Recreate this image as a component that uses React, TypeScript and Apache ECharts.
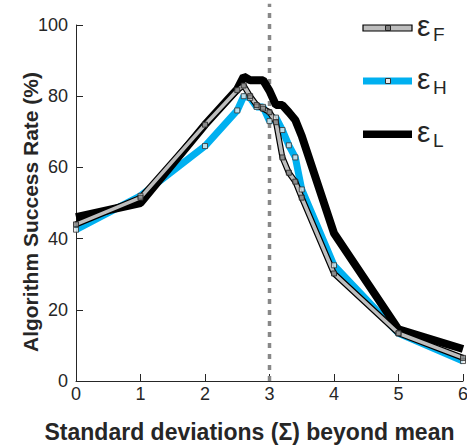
import React, { useEffect, useRef } from "react";
import * as echarts from "echarts";

const xValues = [0, 1, 2, 2.5, 2.6, 2.7, 2.8, 2.9, 3.0, 3.1, 3.2, 3.3, 3.4, 3.5, 4, 5, 6];
const epsF = [44, 51.5, 72, 81.7, 83, 80, 77.5, 76.5, 75.5, 72.7, 62.8, 58.5, 56, 51.5, 30.2, 13.4, 6.5];
const epsH = [42.5, 52, 66, 76, 80, 79.5, 77, 77, 73, 74, 70.5, 66.2, 62.8, 53.8, 32.5, 13.4, 5.6];
const epsL = [46, 50, 72, 82, 85.5, 84.5, 84.5, 84.5, 81.5, 77.5, 77.5, 75.5, 73.3, 68.8, 41.5, 14.5, 9];
const thresholdX = 3;
const yTicks = { min: 0, max: 100, interval: 20 };
const xTicks = { min: 0, max: 6, interval: 1 };
const legendItems = [
  { sub: "F", kind: "F" },
  { sub: "H", kind: "H" },
  { sub: "L", kind: "L" },
];

const BLUE = "#00b0f0";
const GRAY = "#bdbdbd";
const DARK = "#262626";
const FONT = "Liberation Sans, Arial, Helvetica, sans-serif";

const pairs = (ys: number[]) => xValues.map((x, i) => [x, ys[i]]);

export default function App() {
  const ref = useRef<HTMLDivElement>(null);
  useEffect(() => {
    if (!ref.current) return;
    const chart = echarts.init(ref.current, undefined, { renderer: "svg" });

    const legendGraphics: any[] = [];
    const rowY = [28, 81, 134];
    legendItems.forEach((it, i) => {
      const cy = rowY[i];
      if (it.kind === "F") {
        legendGraphics.push({
          type: "rect",
          shape: { x: 363, y: cy - 3, width: 49, height: 6 },
          style: { fill: GRAY, stroke: "#000", lineWidth: 1.2 },
        });
        legendGraphics.push({
          type: "rect",
          shape: { x: 385.5, y: cy - 2.5, width: 5, height: 5 },
          style: { fill: "#7f7f7f", stroke: "#222", lineWidth: 1 },
        });
      } else if (it.kind === "H") {
        legendGraphics.push({
          type: "rect",
          shape: { x: 363, y: cy - 3.5, width: 49, height: 7 },
          style: { fill: BLUE },
        });
        legendGraphics.push({
          type: "rect",
          shape: { x: 385.5, y: cy - 2.5, width: 5, height: 5 },
          style: { fill: "#e8e8e8", stroke: "#333", lineWidth: 1 },
        });
      } else {
        legendGraphics.push({
          type: "rect",
          shape: { x: 363, y: cy - 3.5, width: 49, height: 7.5 },
          style: { fill: "#000" },
        });
      }
      legendGraphics.push({
        type: "text",
        x: 417,
        y: cy - 3,
        style: {
          text: "ε",
          font: `30px ${FONT}`,
          fill: DARK,
          verticalAlign: "middle",
          align: "left",
        },
      });
      legendGraphics.push({
        type: "text",
        x: 433,
        y: cy + 6,
        style: {
          text: it.sub,
          font: `19px ${FONT}`,
          fill: DARK,
          verticalAlign: "middle",
          align: "left",
        },
      });
    });

    chart.setOption({
      animation: false,
      backgroundColor: "#ffffff",
      grid: { left: 76, right: 4, top: 25, bottom: 65, containLabel: false, outerBoundsMode: "none" },
      xAxis: {
        type: "value",
        min: xTicks.min,
        max: xTicks.max,
        interval: xTicks.interval,
        name: "Standard deviations (Σ) beyond mean",
        nameLocation: "middle",
        nameGap: 39,
        nameMoveOverlap: false,
        nameTextStyle: { fontFamily: FONT, fontSize: 23, fontWeight: "bold", color: DARK, padding: [0, 40, 0, 0] },
        axisLine: { show: true, onZero: false, lineStyle: { color: DARK, width: 1 } },
        axisTick: { show: true, inside: true, length: 7, lineStyle: { color: DARK } },
        axisLabel: { fontFamily: FONT, fontSize: 18, color: DARK, margin: 4 },
        splitLine: { show: false },
      },
      yAxis: {
        type: "value",
        min: yTicks.min,
        max: yTicks.max,
        interval: yTicks.interval,
        name: "Algorithm Success Rate (%)",
        nameLocation: "middle",
        nameGap: 35,
        nameMoveOverlap: false,
        nameTextStyle: { fontFamily: FONT, fontSize: 21, fontWeight: "bold", color: DARK, padding: [0, 18, 0, 0] },
        axisLine: { show: true, lineStyle: { color: DARK, width: 1 } },
        axisTick: { show: true, inside: true, length: 7, lineStyle: { color: DARK } },
        axisLabel: { fontFamily: FONT, fontSize: 18, color: DARK, margin: 8 },
        splitLine: { show: false },
      },
      graphic: legendGraphics,
      series: [
        {
          name: "threshold",
          type: "line",
          data: [
            [thresholdX, 0],
            [thresholdX, 106],
          ],
          clip: false,
          symbol: "none",
          lineStyle: { color: "#888888", width: 3.5, type: [5, 6] },
          z: 1,
        },
        {
          name: "εH",
          type: "line",
          data: pairs(epsH),
          symbol: "none",
          lineStyle: { color: BLUE, width: 7 },
          z: 2,
        },
        {
          name: "εL",
          type: "line",
          data: pairs(epsL),
          symbol: "none",
          lineStyle: { color: "#000", width: 8 },
          z: 3,
        },
        {
          name: "εF-outline",
          type: "line",
          data: pairs(epsF),
          symbol: "none",
          lineStyle: { color: "#000", width: 6 },
          z: 4,
        },
        {
          name: "εF",
          type: "line",
          data: pairs(epsF),
          symbol: "none",
          lineStyle: { color: GRAY, width: 3.6 },
          z: 5,
        },
        {
          name: "εH markers",
          type: "scatter",
          data: pairs(epsH),
          symbol: "rect",
          symbolSize: 5,
          clip: false,
          itemStyle: { color: "#e8e8e8", borderColor: "#333", borderWidth: 1 },
          z: 6,
        },
        {
          name: "εF markers",
          type: "scatter",
          data: pairs(epsF),
          symbol: "rect",
          symbolSize: 5,
          clip: false,
          itemStyle: { color: "#7f7f7f", borderColor: "#222", borderWidth: 1 },
          z: 7,
        },
      ],
    });
    return () => chart.dispose();
  }, []);
  return (
    <div
      ref={ref}
      style={{ position: "fixed", left: 0, top: 0, width: 467, height: 446, background: "#fff" }}
    />
  );
}
